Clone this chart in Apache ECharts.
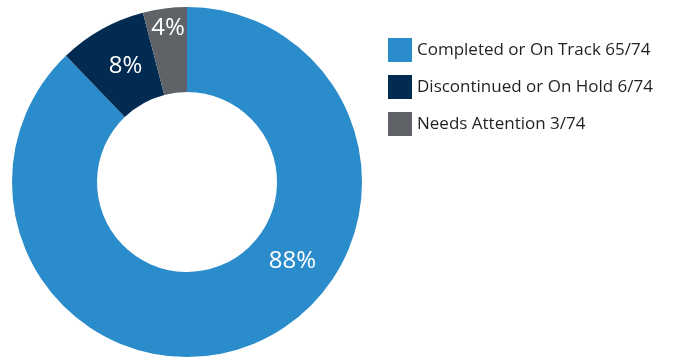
<!DOCTYPE html>
<html>
<head>
<meta charset="utf-8">
<script src="https://cdn.jsdelivr.net/npm/echarts@6/dist/echarts.min.js"></script>
<style>
  html, body { margin: 0; padding: 0; background: #ffffff; }
  #chart { width: 678px; height: 361px; }
</style>
</head>
<body>
<div id="chart"></div>
<script>
// Project status breakdown
const categories = ['Completed or On Track', 'Discontinued or On Hold', 'Needs Attention'];
const counts = [65, 6, 3];
const total = 74;
const colors = ['#2b8ccb', '#022b51', '#5f6368'];

const center = [187, 182];
const radii = [90, 175];

// Where each slice label sits, as [angle clockwise from 12 o'clock in degrees, distance from centre]
const labelSpots = { 0: [127, 132], 1: [332, 131], 2: [353, 155] };

const pct = v => Math.round(v / total * 100) + '%';

const chart = echarts.init(document.getElementById('chart'), null, { renderer: 'canvas' });

chart.setOption({
  animation: false,
  legend: {
    orient: 'vertical',
    left: 388,
    top: 38,
    padding: 0,
    itemWidth: 24,
    itemHeight: 24,
    itemGap: 13,
    icon: 'rect',
    textStyle: {
      fontFamily: 'Open Sans',
      fontSize: 17,
      color: '#231f20'
    },
    formatter: name => {
      const i = categories.indexOf(name);
      return name + ' ' + counts[i] + '/' + total;
    },
    data: categories
  },
  series: [{
    type: 'pie',
    center: center,
    radius: radii,
    startAngle: 90,
    clockwise: true,
    avoidLabelOverlap: false,
    itemStyle: { borderWidth: 0 },
    label: {
      show: true,
      position: 'inside',
      formatter: p => pct(p.value),
      color: '#ffffff',
      fontFamily: 'Open Sans',
      fontWeight: 'normal',
      fontSize: 24
    },
    labelLine: { show: false },
    emphasis: { disabled: true },
    labelLayout: p => {
      const spot = labelSpots[p.dataIndex];
      if (!spot) return {};
      const a = spot[0] * Math.PI / 180;
      return {
        x: center[0] + spot[1] * Math.sin(a),
        y: center[1] - spot[1] * Math.cos(a),
        align: 'center',
        verticalAlign: 'middle'
      };
    },
    data: categories.map((c, i) => ({
      name: c,
      value: counts[i],
      itemStyle: { color: colors[i] }
    }))
  }]
});
</script>
</body>
</html>
